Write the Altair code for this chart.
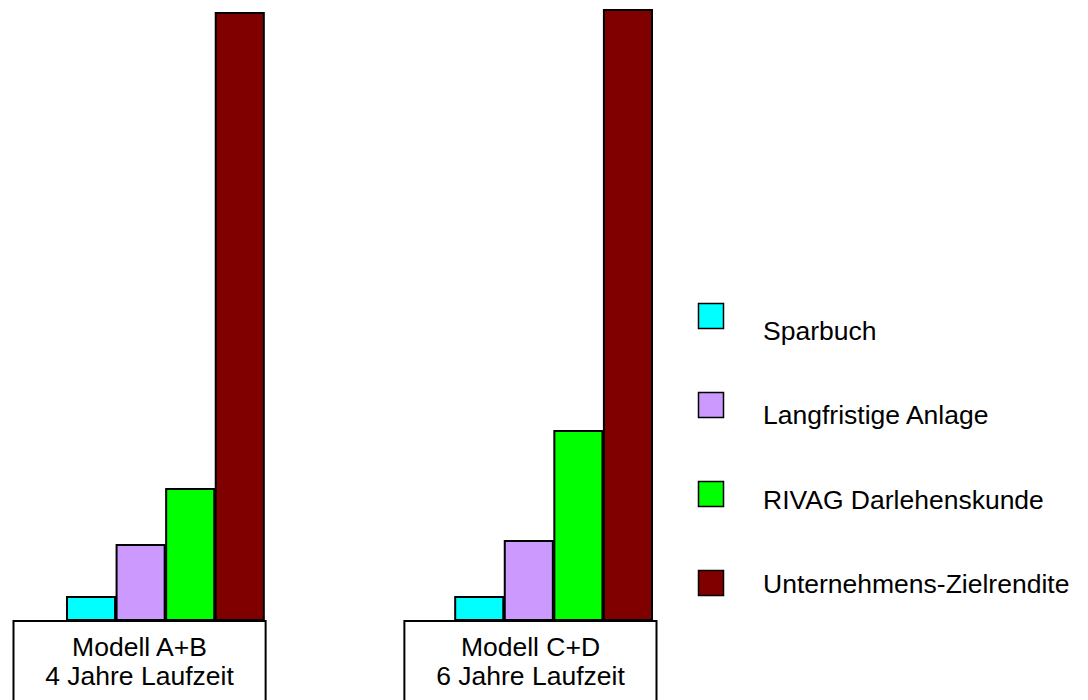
import altair as alt
import pandas as pd

# ---- data ----
group_keys = ["A+B", "C+D"]
group_labels = ["Modell A+B\n4 Jahre Laufzeit", "Modell C+D\n6 Jahre Laufzeit"]
series = ["Sparbuch", "Langfristige Anlage", "RIVAG Darlehenskunde", "Unternehmens-Zielrendite"]
colors = ["#00FFFF", "#CC99FF", "#00FF00", "#800000"]
values_ab = [23, 75, 131, 607]
values_cd = [23, 79, 189, 610]

rows = []
for s, v in zip(series, values_ab):
    rows.append({"group": "A+B", "series": s, "value": v})
for s, v in zip(series, values_cd):
    rows.append({"group": "C+D", "series": s, "value": v})
bars_df = pd.DataFrame(rows)
labels_df = pd.DataFrame({"group": group_keys, "label": group_labels})
legend_df = pd.DataFrame({"series": series})

FONT = "Liberation Sans"
FS = 26.5
color_scale = alt.Scale(domain=series, range=colors)

bars = alt.Chart(bars_df).mark_bar(stroke="black", strokeWidth=2).encode(
    x=alt.X("group:N", axis=None,
            scale=alt.Scale(domain=group_keys, range=[67, 652], paddingInner=0.493, paddingOuter=0)),
    xOffset=alt.XOffset("series:N", scale=alt.Scale(domain=series, paddingInner=0.03, paddingOuter=0)),
    y=alt.Y("value:Q", axis=None, scale=alt.Scale(domain=[0, 620], range=[620, 0], nice=False)),
    color=alt.Color("series:N", scale=color_scale, legend=None),
)

box_scale = alt.Scale(type="band", domain=group_keys, range=[13.5, 656.5], paddingInner=0.355, paddingOuter=0)

boxes = alt.Chart(labels_df).mark_rect(fill="white", stroke="black", strokeWidth=2).encode(
    x=alt.X("group:N", axis=None, scale=box_scale),
    y=alt.value(621),
    y2=alt.value(720),
)

box_text = alt.Chart(labels_df).mark_text(
    font=FONT, fontSize=FS, lineBreak="\n", lineHeight=29, baseline="top", align="center", color="black"
).encode(
    x=alt.X("group:N", axis=None,
            scale=alt.Scale(type="point", domain=group_keys, range=[139.5, 530.5], padding=0)),
    y=alt.value(635),
    text="label:N",
)

legend_squares = alt.Chart(legend_df).mark_square(size=625, stroke="black", strokeWidth=1.5, opacity=1).encode(
    x=alt.value(711),
    y=alt.Y("series:N", axis=None,
            scale=alt.Scale(type="point", domain=series, range=[316, 583], padding=0)),
    color=alt.Color("series:N", scale=color_scale, legend=None),
)

legend_text = alt.Chart(legend_df).mark_text(
    font=FONT, fontSize=FS, align="left", baseline="middle", color="black"
).encode(
    x=alt.value(763),
    y=alt.Y("series:N", axis=None,
            scale=alt.Scale(type="point", domain=series, range=[332, 585], padding=0)),
    text="series:N",
)

chart = alt.layer(bars, boxes, box_text, legend_squares, legend_text).resolve_scale(
    x="independent", y="independent"
).properties(
    width=1088, height=700, autosize=alt.AutoSizeParams(type="none"), padding=0, background="white"
).configure_view(stroke=None)

chart.save("out.html", embed_options={"renderer": "svg", "actions": False})
